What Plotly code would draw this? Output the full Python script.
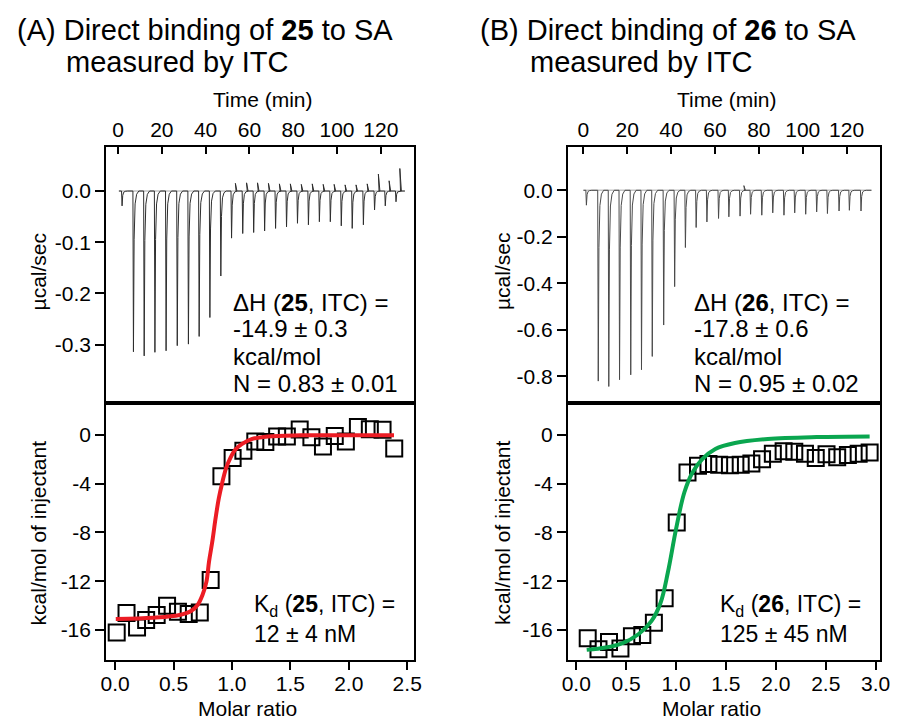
import plotly.graph_objects as go

# ---------------- data ----------------
# Raw ITC thermograms: injection time (min), peak depth (µcal/sec), positive blip after peak
inj_time_A = [1.7, 6.9, 11.8, 16.7, 21.8, 26.9, 32.0, 36.9, 41.8, 46.8, 51.7, 56.8, 61.8,
              66.8, 71.8, 76.8, 81.8, 86.8, 91.8, 96.8, 101.8, 106.8, 111.9, 117.0, 121.9, 126.8]
peak_A = [-0.029, -0.314, -0.322, -0.315, -0.312, -0.302, -0.299, -0.284, -0.247, -0.166,
          -0.092, -0.083, -0.081, -0.078, -0.073, -0.070, -0.063, -0.066, -0.060, -0.060,
          -0.068, -0.073, -0.066, -0.037, -0.029, -0.021]
blip_A = [0, 0, 0, 0, 0, 0, 0, 0, 0, 0, 0.015, 0.016, 0.016, 0.015, 0.014, 0.014, 0.013,
          0.014, 0.013, 0.013, 0.012, 0.012, 0.014, 0.033, 0.020, 0.044]

inj_time_B = [1.3, 6.7, 11.5, 16.4, 21.5, 26.4, 31.3, 36.5, 41.5, 46.4, 51.3, 56.2, 61.5,
              66.2, 71.3, 76.1, 81.2, 86.2, 91.3, 96.2, 101.2, 106.2, 111.1, 116.4, 121.1, 126.4]
peak_B = [-0.064, -0.820, -0.843, -0.814, -0.793, -0.771, -0.714, -0.579, -0.414, -0.246,
          -0.160, -0.136, -0.121, -0.114, -0.111, -0.103, -0.107, -0.097, -0.107, -0.097,
          -0.103, -0.093, -0.100, -0.089, -0.086, -0.089]
blip_B = [0, 0, 0, 0, 0, 0, 0, 0, 0, 0, 0, 0, 0, 0, 0.02, 0, 0, 0, 0, 0, 0, 0, 0, 0, 0, 0]

run_span_A = [0.4, 131.0]
run_span_B = [0.1, 131.3]

# Integrated heats (kcal/mol of injectant) vs molar ratio
ratio_A = [0.014, 0.098, 0.188, 0.266, 0.356, 0.445, 0.538, 0.630, 0.725, 0.818, 0.910,
           1.006, 1.098, 1.200, 1.286, 1.387, 1.470, 1.580, 1.680, 1.779, 1.880, 1.975,
           2.078, 2.180, 2.289, 2.389]
heat_A = [-16.19, -14.60, -15.78, -15.18, -14.77, -14.00, -14.49, -14.68, -14.55, -11.90,
          -3.39, -1.91, -1.31, -0.55, -0.60, -0.14, -0.14, 0.43, -0.20, -0.96, -0.11, -0.55,
          0.63, 0.45, 0.41, -1.12]

ratio_B = [0.115, 0.223, 0.328, 0.443, 0.558, 0.662, 0.778, 0.886, 1.007, 1.115, 1.220,
           1.325, 1.432, 1.540, 1.648, 1.755, 1.862, 1.970, 2.078, 2.185, 2.292, 2.400,
           2.508, 2.615, 2.722, 2.830, 2.940]
heat_B = [-16.66, -17.57, -16.97, -17.50, -16.50, -16.40, -15.40, -13.40, -7.19, -3.09,
          -2.54, -2.40, -2.45, -2.50, -2.45, -2.35, -2.00, -1.55, -1.35, -1.40, -1.55,
          -1.90, -1.60, -1.85, -1.65, -1.55, -1.45]

# One-site binding fits
fit_x_A = [0.006, 0.328, 0.552, 0.650, 0.706, 0.748, 0.782, 0.804, 0.832, 0.860, 0.888,
           0.916, 0.950, 0.986, 1.028, 1.084, 1.168, 1.308, 1.590, 2.387]
fit_y_A = [-15.09, -14.99, -14.77, -14.44, -13.95, -13.13, -12.03, -10.39, -8.75, -6.84,
           -5.20, -3.97, -2.73, -1.91, -1.23, -0.77, -0.36, -0.14, -0.05, -0.05]

fit_x_B = [0.105, 0.295, 0.460, 0.623, 0.755, 0.846, 0.918, 1.000, 1.083, 1.165, 1.263,
           1.394, 1.590, 1.920, 2.410, 2.940]
fit_y_B = [-17.62, -17.43, -17.08, -16.34, -15.25, -13.74, -11.28, -7.73, -4.73, -3.09,
           -2.00, -1.17, -0.68, -0.35, -0.19, -0.14]

# Tick values and labels
time_ticks = [0, 20, 40, 60, 80, 100, 120]
power_ticks_A = [0.0, -0.1, -0.2, -0.3]
power_labels_A = ["0.0", "-0.1", "-0.2", "-0.3"]
power_ticks_B = [0.0, -0.2, -0.4, -0.6, -0.8]
power_labels_B = ["0.0", "-0.2", "-0.4", "-0.6", "-0.8"]
heat_ticks = [0, -4, -8, -12, -16]
heat_labels = ["0", "-4", "-8", "-12", "-16"]
ratio_ticks_A = [0.0, 0.5, 1.0, 1.5, 2.0, 2.5]
ratio_labels_A = ["0.0", "0.5", "1.0", "1.5", "2.0", "2.5"]
ratio_ticks_B = [0.0, 0.5, 1.0, 1.5, 2.0, 2.5, 3.0]
ratio_labels_B = ["0.0", "0.5", "1.0", "1.5", "2.0", "2.5", "3.0"]

# ---------------- drawing ----------------
FONT = "Liberation Sans, Arial, Helvetica, sans-serif"
W, H = 902, 720

# relative shape of a single injection peak: (time offset, fraction of depth)
PEAK_SHAPE = [(-0.1, 0.0), (0.15, 1.0), (0.45, 0.3), (0.9, 0.08), (1.6, 0.02), (2.6, 0.0)]


def thermogram(times, depths, blips, span):
    xs, ys = [span[0]], [0.0]
    for t, d, b in zip(times, depths, blips):
        for dt, f in PEAK_SHAPE:
            xs.append(t + dt)
            ys.append(d * f)
        if b:
            xs += [t + 1.9, t + 2.2]
            ys += [b, 0.0]
    xs.append(span[1])
    ys.append(0.0)
    return xs, ys


fig = go.Figure()

panels = [
    dict(times=inj_time_A, depths=peak_A, blips=blip_A, span=run_span_A,
         rx=ratio_A, hy=heat_A, fx=fit_x_A, fy=fit_y_A, color="#ec1c24",
         xa="x", ya="y", xb="x2", yb="y2", trace_color="#2e2e2e"),
    dict(times=inj_time_B, depths=peak_B, blips=blip_B, span=run_span_B,
         rx=ratio_B, hy=heat_B, fx=fit_x_B, fy=fit_y_B, color="#0aa64f",
         xa="x3", ya="y3", xb="x4", yb="y4", trace_color="#4a4a4a"),
]

for p in panels:
    # baseline reference
    fig.add_trace(go.Scatter(x=p["span"], y=[0, 0], mode="lines",
                             line=dict(color="#c4c4c4", width=1.5),
                             xaxis=p["xa"], yaxis=p["ya"], showlegend=False,
                             hoverinfo="skip"))
    tx, ty = thermogram(p["times"], p["depths"], p["blips"], p["span"])
    fig.add_trace(go.Scatter(x=tx, y=ty, mode="lines",
                             line=dict(color=p["trace_color"], width=1),
                             xaxis=p["xa"], yaxis=p["ya"], showlegend=False))
    fig.add_trace(go.Scatter(x=p["rx"], y=p["hy"], mode="markers",
                             marker=dict(symbol="square-open", size=16, color="black",
                                         line=dict(width=2, color="black")),
                             xaxis=p["xb"], yaxis=p["yb"], showlegend=False))
    fig.add_trace(go.Scatter(x=p["fx"], y=p["fy"], mode="lines",
                             line=dict(color=p["color"], width=4, shape="spline"),
                             xaxis=p["xb"], yaxis=p["yb"], showlegend=False))

axis_common = dict(showline=True, linecolor="black", linewidth=2, mirror=True,
                   showgrid=False, zeroline=False, tickcolor="black", tickwidth=2,
                   tickfont=dict(family=FONT, size=21, color="black"))

left_dom = [102 / W, 415 / W]
right_dom = [572 / W, 890 / W]
top_dom = [1 - 403 / H, 1 - 147 / H]
bot_dom = [1 - 660 / H, 1 - 403 / H]

fig.update_layout(
    width=W, height=H, margin=dict(l=0, r=0, t=0, b=0),
    paper_bgcolor="white", plot_bgcolor="white", showlegend=False,
    font=dict(family=FONT, color="black"),
    xaxis=dict(**axis_common, domain=left_dom, anchor="y", side="top", range=[-5.4, 135],
               ticks="inside", ticklen=7, tickvals=time_ticks),
    yaxis=dict(**axis_common, domain=top_dom, anchor="x", range=[-0.414, 0.086],
               ticks="outside", ticklen=9, tickvals=power_ticks_A, ticktext=power_labels_A),
    xaxis2=dict(**axis_common, domain=left_dom, anchor="y2", range=[-0.076, 2.555],
                ticks="outside", ticklen=8, tickvals=ratio_ticks_A, ticktext=ratio_labels_A,
                ticklabelstandoff=-4),
    yaxis2=dict(**axis_common, domain=bot_dom, anchor="x2", range=[-18.45, 2.6],
                ticks="outside", ticklen=9, tickvals=heat_ticks, ticktext=heat_labels),
    xaxis3=dict(**axis_common, domain=right_dom, anchor="y3", side="top", range=[-7.0, 135.3],
                ticks="inside", ticklen=7, tickvals=time_ticks),
    yaxis3=dict(**axis_common, domain=top_dom, anchor="x3", range=[-0.914, 0.186],
                ticks="outside", ticklen=9, tickvals=power_ticks_B, ticktext=power_labels_B),
    xaxis4=dict(**axis_common, domain=right_dom, anchor="y4", range=[-0.084, 3.046],
                ticks="outside", ticklen=8, tickvals=ratio_ticks_B, ticktext=ratio_labels_B,
                ticklabelstandoff=-4),
    yaxis4=dict(**axis_common, domain=bot_dom, anchor="x4", range=[-18.45, 2.6],
                ticks="outside", ticklen=9, tickvals=heat_ticks, ticktext=heat_labels),
)


def note(text, x, y, size, xanchor="left", angle=0):
    fig.add_annotation(text=text, x=x / W, y=1 - y / H, xref="paper", yref="paper",
                       xanchor=xanchor, yanchor="middle", showarrow=False, textangle=angle,
                       font=dict(family=FONT, size=size, color="black"))


for dx, cid, dh, n_val, kd in [(0, "25", "-14.9 ± 0.3", "N = 0.83 ± 0.01", "12 ± 4 nM"),
                               (472, "26", "-17.8 ± 0.6", "N = 0.95 ± 0.02", "125 ± 45 nM")]:
    letter = "A" if dx == 0 else "B"
    note(f"({letter}) Direct binding of <b>{cid}</b> to SA", 9 + dx, 30, 29)
    note("measured by ITC", 59 + dx, 62, 29)
    note("Time (min)", 262 + dx, 100, 21, xanchor="center")
    note("Molar ratio", 246 + dx, 708, 21, xanchor="center")
    note("µcal/sec", 33 + dx, 272, 21, xanchor="center", angle=-90)
    note("kcal/mol of injectant", 33 + dx, 533, 21, xanchor="center", angle=-90)
    hx = 229 + dx + (-3 if dx else 0)
    note(f"ΔH (<b>{cid}</b>, ITC) =", hx, 302, 24)
    note(dh, hx, 329, 24)
    note("kcal/mol", hx, 356, 24)
    note(n_val, hx, 383, 24)
    kx = 250 + dx + (3 if dx else 0)
    note(f"K<sub>d</sub> (<b>{cid}</b>, ITC) =", kx, 605, 23)
    note(kd, kx, 634, 23)

fig.write_html("out.html")
